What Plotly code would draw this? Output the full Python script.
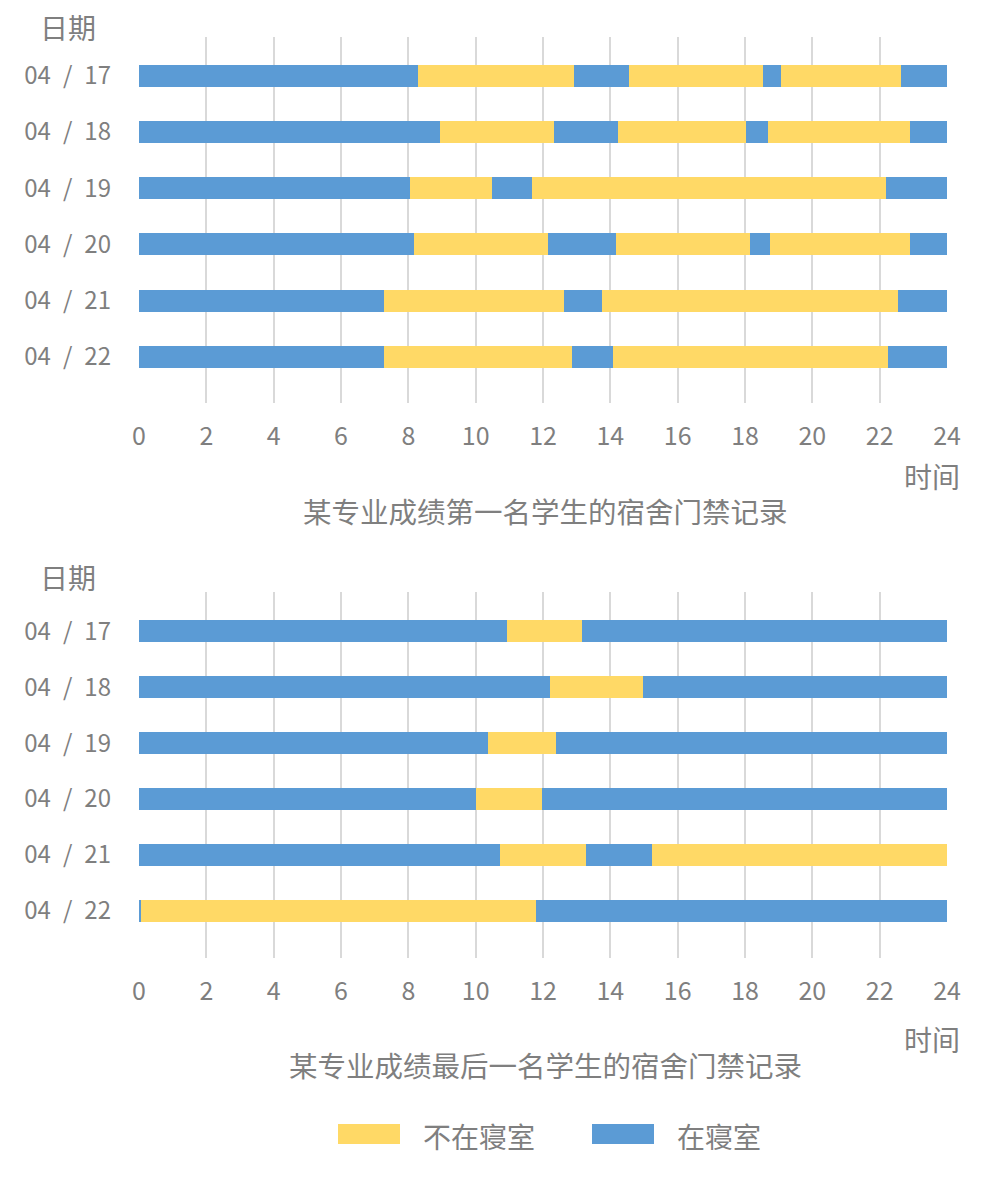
import plotly.graph_objects as go

# ---------------- data ----------------
dates = ["04\u2002/\u200217", "04\u2002/\u200218", "04\u2002/\u200219",
         "04\u2002/\u200220", "04\u2002/\u200221", "04\u2002/\u200222"]
states = ["在寝室", "不在寝室"]  # segments alternate, starting with 在寝室

# change times (hours) for the top student
top_times = [
    [0, 8.28, 12.93, 14.54, 18.52, 19.06, 22.63, 24],
    [0, 8.94, 12.34, 14.23, 18.04, 18.68, 22.91, 24],
    [0, 8.04, 10.48, 11.66, 22.19, 24],
    [0, 8.17, 12.15, 14.16, 18.15, 18.74, 22.91, 24],
    [0, 7.27, 12.62, 13.76, 22.55, 24],
    [0, 7.27, 12.86, 14.09, 22.25, 24],
]
# change times (hours) for the last student
bottom_times = [
    [0, 10.94, 13.16, 24],
    [0, 12.20, 14.98, 24],
    [0, 10.36, 12.39, 24],
    [0, 10.01, 11.96, 24],
    [0, 10.72, 13.27, 15.23, 24],
    [0, 0.06, 11.79, 24],
]
x_ticks = list(range(0, 25, 2))
titles = ["某专业成绩第一名学生的宿舍门禁记录", "某专业成绩最后一名学生的宿舍门禁记录"]

# ---------------- styles ----------------
BLUE = "#5B9BD5"
YELLOW = "#FFD966"
GRID = "#D9D9D9"
TXT = "#7F7F7F"
FONT = "Noto Sans CJK SC"
colors = {"在寝室": BLUE, "不在寝室": YELLOW}

fig = go.Figure()


def add_chart(times, xa, ya):
    for st in states:
        ys, bases, lens = [], [], []
        for d, t in zip(dates, times):
            for i in range(len(t) - 1):
                if states[i % 2] == st:
                    ys.append(d)
                    bases.append(t[i])
                    lens.append(t[i + 1] - t[i])
        fig.add_trace(go.Bar(
            y=ys, x=lens, base=bases, orientation="h", name=st,
            marker=dict(color=colors[st], line=dict(width=0)),
            width=0.39, xaxis=xa, yaxis=ya, showlegend=False,
        ))


add_chart(top_times, "x", "y")
add_chart(bottom_times, "x2", "y2")

H = 1182.0
W = 994.0
xdom = [139 / W, 947 / W]

axis_x = dict(range=[0, 24], tickvals=x_ticks, showgrid=True, gridcolor=GRID,
              gridwidth=2, zeroline=False, showline=False, ticks="",
              tickfont=dict(family=FONT, size=25, color=TXT), ticklabelstandoff=16,
              domain=xdom, fixedrange=True, automargin=False)
axis_y = dict(type="category", categoryarray=dates, showgrid=False, zeroline=False,
              showline=False, ticks="", tickfont=dict(family=FONT, size=24, color=TXT),
              ticklabelstandoff=27, fixedrange=True, automargin=False)

fig.update_layout(
    width=994, height=1182,
    margin=dict(l=0, r=0, t=0, b=0),
    paper_bgcolor="white", plot_bgcolor="white",
    barmode="overlay", bargap=0,
    font=dict(family=FONT, color=TXT),
    showlegend=False,
    xaxis=dict(axis_x, anchor="y"),
    yaxis=dict(axis_y, domain=[1 - 403 / H, 1 - 37 / H], range=[5.82, -0.69], anchor="x"),
    xaxis2=dict(axis_x, anchor="y2"),
    yaxis2=dict(axis_y, domain=[1 - 958 / H, 1 - 592 / H], range=[5.84, -0.70], anchor="x2"),
)

ann = []
# y-axis titles, x-axis titles, chart titles
for ytop, xlab_y, title_y, t in [(27, 476, 511, titles[0]), (577, 1039, 1064, titles[1])]:
    ann.append(dict(text="日期", x=68 / W, y=1 - ytop / H, xref="paper", yref="paper",
                    showarrow=False, xanchor="center", yanchor="middle",
                    font=dict(family=FONT, size=28, color=TXT)))
    ann.append(dict(text="时间", x=932 / W, y=1 - xlab_y / H, xref="paper", yref="paper",
                    showarrow=False, xanchor="center", yanchor="middle",
                    font=dict(family=FONT, size=28, color=TXT)))
    ann.append(dict(text=t, x=545 / W, y=1 - title_y / H, xref="paper", yref="paper",
                    showarrow=False, xanchor="center", yanchor="middle",
                    font=dict(family=FONT, size=28.5, color=TXT)))

# legend (swatches + labels)
shapes = []
legend_items = [("不在寝室", YELLOW, 338, 421), ("在寝室", BLUE, 592, 675)]
for name, col, sx, tx in legend_items:
    shapes.append(dict(type="rect", xref="paper", yref="paper",
                       x0=sx / W, x1=(sx + 62) / W, y0=1 - 1144 / H, y1=1 - 1124 / H,
                       fillcolor=col, line=dict(width=0)))
    ann.append(dict(text=name, x=tx / W, y=1 - 1136 / H, xref="paper", yref="paper",
                    showarrow=False, xanchor="left", yanchor="middle",
                    font=dict(family=FONT, size=28, color=TXT)))

fig.update_layout(annotations=ann, shapes=shapes)
fig.write_html("out.html")
